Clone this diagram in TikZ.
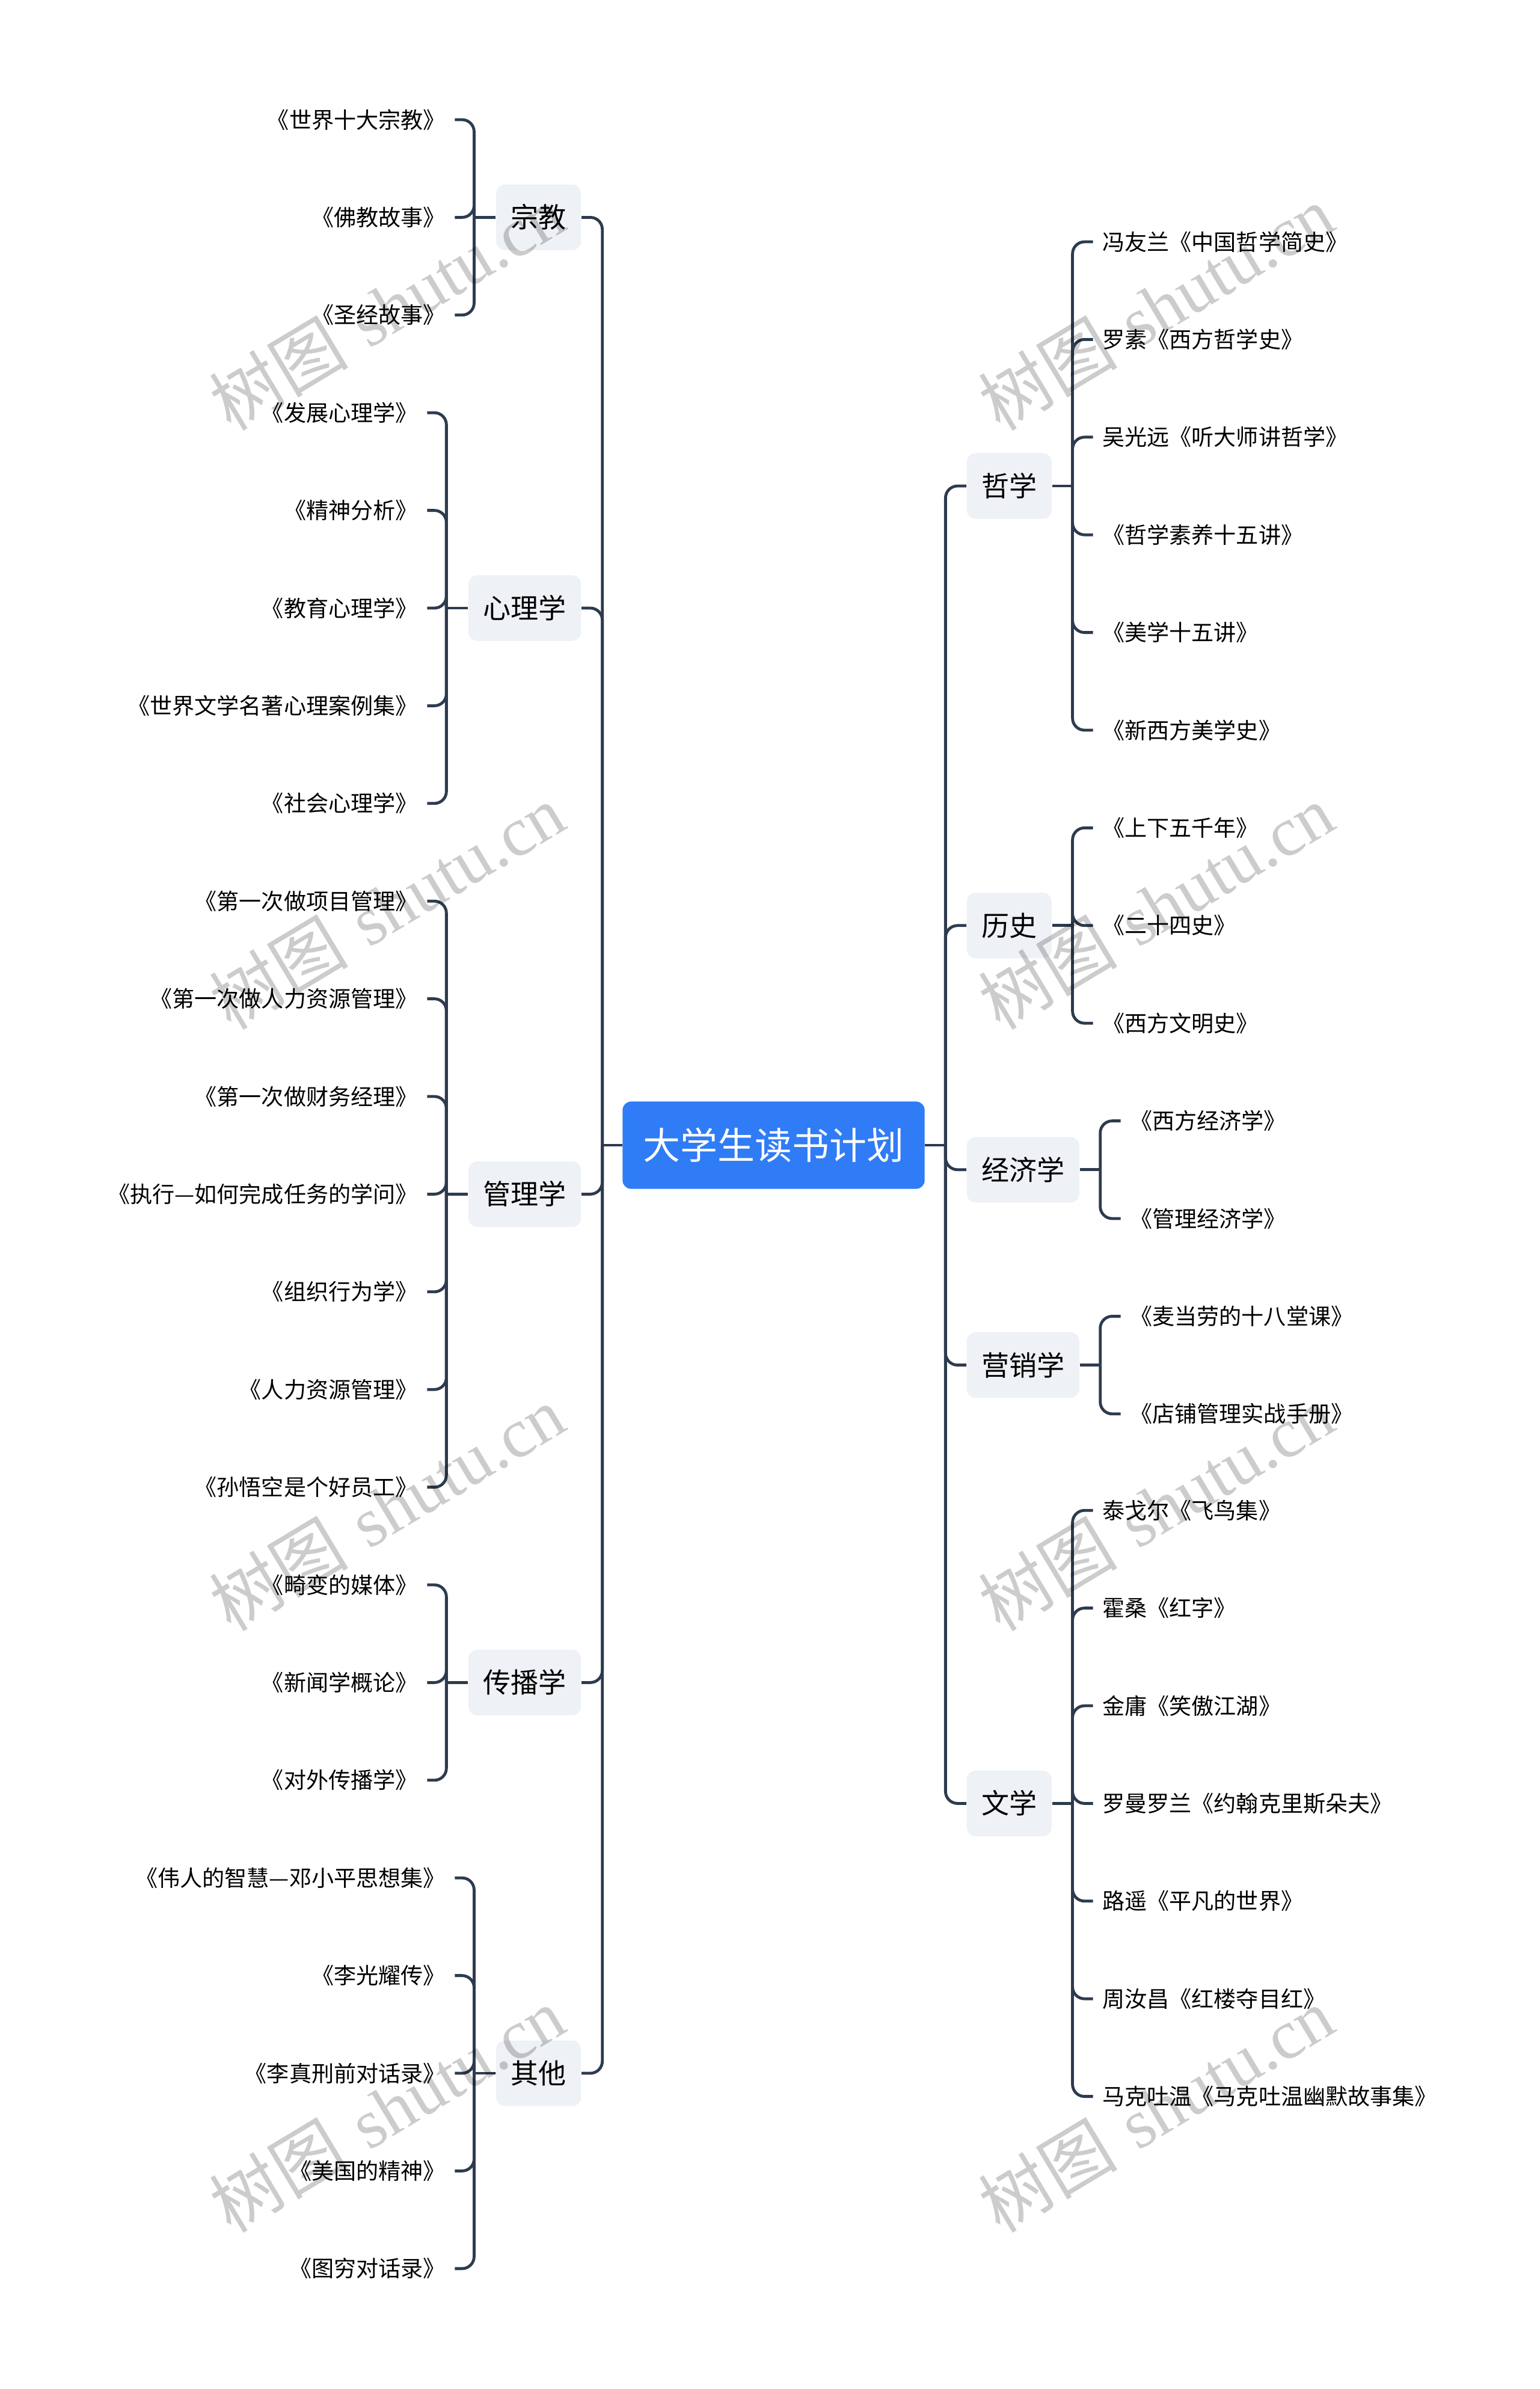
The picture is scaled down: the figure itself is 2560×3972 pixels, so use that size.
\documentclass[tikz,border=0pt]{standalone}
\usepackage{fontspec}
\usepackage{tikz}
\usetikzlibrary{calc,positioning}
\newfontfamily\cjk{Noto Sans CJK SC}
\newfontfamily\marca{Liberation Serif}
\definecolor{linha}{HTML}{2D3B4E}
\definecolor{caixa}{HTML}{EEF1F5}
\definecolor{raizazul}{HTML}{2F7CF6}
\definecolor{fundo}{HTML}{FFFFFF}

\begin{document}
\begin{tikzpicture}[x=0.01cm,y=-0.01cm,
  raizbox/.style={fill=raizazul, rounded corners=0.14cm, minimum height=1.45cm, inner xsep=0.345cm, inner ysep=0pt, text=white, font=\cjk\fontsize{17.6pt}{18pt}\selectfont, text height=0.546cm, text depth=0.074cm},
  ramo/.style={fill=caixa, rounded corners=0.15cm, minimum height=1.09cm, inner xsep=0.245cm, inner ysep=0pt, text=black, font=\cjk\fontsize{13.1pt}{14pt}\selectfont, text height=0.405cm, text depth=0.055cm},
  folhaE/.style={anchor=east, inner xsep=0.15cm, inner ysep=0pt, text=black, font=\cjk\fontsize{10.55pt}{11pt}\selectfont, text height=0.326cm, text depth=0.045cm},
  folhaD/.style={folhaE, anchor=west},
  liga/.style={draw=linha, line width=0.048cm, rounded corners=0.2cm},
  marcadagua/.style={rotate=31, text=black, opacity=0.2, font=\fontsize{33pt}{34pt}\selectfont}]
  \useasboundingbox[fill=fundo] (0,0) rectangle (2560,3972);
  \node[raizbox] (raiz) at (1286.5,1904) {大学生读书计划};
  % lado esquerdo
  \node[ramo,anchor=east] (zongjiao) at (967,361.4) {宗教};
  \node[ramo,anchor=east] (xinli) at (967,1011) {心理学};
  \node[ramo,anchor=east] (guanli) at (967,1985.4) {管理学};
  \node[ramo,anchor=east] (chuanbo) at (967,2797.4) {传播学};
  \node[ramo,anchor=east] (qita) at (967,3447) {其他};
  \coordinate (hubE) at ($(raiz.west)+(-33,0)$);
  \draw[liga] (raiz.west) -- (hubE);
  \foreach \c in {zongjiao,xinli,guanli,chuanbo,qita}{\draw[liga] (hubE) |- (\c.east);
    \draw[liga] (\c.west) -- ++(-36,0) coordinate (\c-b);}
  \foreach \t [count=\i] in {《世界十大宗教》,《佛教故事》,《圣经故事》}{
    \node[folhaE] (zongjiao\i) at ($(zongjiao.west)+(-68,{(\i-2)*162.4})$) {\t};
    \draw[liga] (zongjiao-b) |- (zongjiao\i.east);}
  \foreach \t [count=\i] in {《发展心理学》,《精神分析》,《教育心理学》,《世界文学名著心理案例集》,《社会心理学》}{
    \node[folhaE] (xinli\i) at ($(xinli.west)+(-68,{(\i-3)*162.4})$) {\t};
    \draw[liga] (xinli-b) |- (xinli\i.east);}
  \foreach \t [count=\i] in {《第一次做项目管理》,《第一次做人力资源管理》,《第一次做财务经理》,《执行—如何完成任务的学问》,《组织行为学》,《人力资源管理》,《孙悟空是个好员工》}{
    \node[folhaE] (guanli\i) at ($(guanli.west)+(-68,{(\i-4)*162.4})$) {\t};
    \draw[liga] (guanli-b) |- (guanli\i.east);}
  \foreach \t [count=\i] in {《畸变的媒体》,《新闻学概论》,《对外传播学》}{
    \node[folhaE] (chuanbo\i) at ($(chuanbo.west)+(-68,{(\i-2)*162.4})$) {\t};
    \draw[liga] (chuanbo-b) |- (chuanbo\i.east);}
  \foreach \t [count=\i] in {《伟人的智慧—邓小平思想集》,《李光耀传》,《李真刑前对话录》,《美国的精神》,《图穷对话录》}{
    \node[folhaE] (qita\i) at ($(qita.west)+(-68,{(\i-3)*162.4})$) {\t};
    \draw[liga] (qita-b) |- (qita\i.east);}
  % lado direito
  \node[ramo,anchor=west] (zhexue) at (1607,808) {哲学};
  \node[ramo,anchor=west] (lishi) at (1607,1538.8) {历史};
  \node[ramo,anchor=west] (jingji) at (1607,1944.8) {经济学};
  \node[ramo,anchor=west] (yingxiao) at (1607,2269.6) {营销学};
  \node[ramo,anchor=west] (wenxue) at (1607,2998.4) {文学};
  \coordinate (hubD) at ($(raiz.east)+(34,0)$);
  \draw[liga] (raiz.east) -- (hubD);
  \foreach \c in {zhexue,lishi,jingji,yingxiao,wenxue}{\draw[liga] (hubD) |- (\c.west);
    \draw[liga] (\c.east) -- ++(34,0) coordinate (\c-b);}
  \foreach \t [count=\i] in {冯友兰《中国哲学简史》,罗素《西方哲学史》,吴光远《听大师讲哲学》,《哲学素养十五讲》,《美学十五讲》,《新西方美学史》}{
    \node[folhaD] (zhexue\i) at ($(zhexue.east)+(68,{(\i-3.5)*162.4})$) {\t};
    \draw[liga] (zhexue-b) |- (zhexue\i.west);}
  \foreach \t [count=\i] in {《上下五千年》,《二十四史》,《西方文明史》}{
    \node[folhaD] (lishi\i) at ($(lishi.east)+(68,{(\i-2)*162.4})$) {\t};
    \draw[liga] (lishi-b) |- (lishi\i.west);}
  \foreach \t [count=\i] in {《西方经济学》,《管理经济学》}{
    \node[folhaD] (jingji\i) at ($(jingji.east)+(68,{(\i-1.5)*162.4})$) {\t};
    \draw[liga] (jingji-b) |- (jingji\i.west);}
  \foreach \t [count=\i] in {《麦当劳的十八堂课》,《店铺管理实战手册》}{
    \node[folhaD] (yingxiao\i) at ($(yingxiao.east)+(68,{(\i-1.5)*162.4})$) {\t};
    \draw[liga] (yingxiao-b) |- (yingxiao\i.west);}
  \foreach \t [count=\i] in {泰戈尔《飞鸟集》,霍桑《红字》,金庸《笑傲江湖》,罗曼罗兰《约翰克里斯朵夫》,路遥《平凡的世界》,周汝昌《红楼夺目红》,马克吐温《马克吐温幽默故事集》}{
    \node[folhaD] (wenxue\i) at ($(wenxue.east)+(68,{(\i-4)*162.4})$) {\t};
    \draw[liga] (wenxue-b) |- (wenxue\i.west);}
  % marca d'agua
  \foreach \y [count=\k] in {511,1507,2507,3507}{
    \node[marcadagua] (wmE\k) at (643,\y) {{\cjk 树图} {\marca shutu.cn}};
    \node[marcadagua] (wmD\k) at (1922,\y) {{\cjk 树图} {\marca shutu.cn}};}
\end{tikzpicture}
\end{document}
